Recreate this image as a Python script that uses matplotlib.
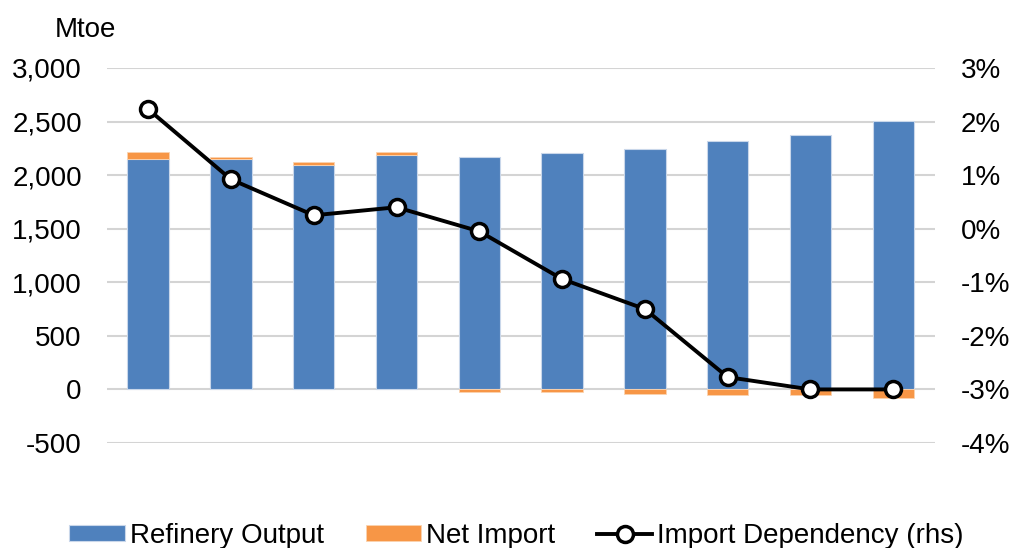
import matplotlib
matplotlib.use("Agg")
import matplotlib.pyplot as plt
from matplotlib.ticker import FuncFormatter
import numpy as np

plt.rcParams['font.family'] = ['Liberation Sans', 'DejaVu Sans']

# Supply balance (Mtoe) and import dependency (%)
years = list(range(10))
refinery_output = [2150, 2150, 2093, 2190, 2171, 2208, 2246, 2320, 2377, 2505]
net_import = [63, 22, 25, 22, -20, -20, -45, -55, -55, -80]
import_dependency = [2.23, 0.92, 0.25, 0.40, -0.05, -0.94, -1.50, -2.77, -3.0, -3.0]

left_ticks = [-500, 0, 500, 1000, 1500, 2000, 2500, 3000]
right_ticks = [-4, -3, -2, -1, 0, 1, 2, 3]

blue = '#4F81BD'
orange = '#F79646'
grid_c = '#D4D4D4'

fig = plt.figure(figsize=(10.17, 5.48), dpi=100)
ax = fig.add_axes([0.105, 0.1916, 0.814, 0.6844])

x = np.arange(len(years))
ax.bar(x, refinery_output, width=0.5, color=blue, edgecolor='#C9D7EA',
       linewidth=0.8, label='Refinery Output', zorder=3)
bottoms = [r if n > 0 else 0 for r, n in zip(refinery_output, net_import)]
ax.bar(x, net_import, width=0.5, bottom=bottoms, color=orange,
       edgecolor='#FBD3B0', linewidth=0.6, label='Net Import', zorder=3)

ax.set_ylim(-500, 3000)
ax.set_xlim(-0.5, len(years) - 0.5)
ax.set_yticks(left_ticks)
ax.yaxis.set_major_formatter(FuncFormatter(lambda v, p: f"{int(v):,}"))
ax.set_xticks([])
ax.grid(axis='y', color=grid_c, linewidth=1.5, zorder=0)
ax.set_axisbelow(True)
for s in ax.spines.values():
    s.set_visible(False)
ax.tick_params(axis='y', length=0, pad=18, labelsize=20)

ax2 = ax.twinx()
ax2.plot(x, import_dependency, color='black', linewidth=2.8, marker='o',
         markersize=11.5, markerfacecolor='white', markeredgecolor='black',
         markeredgewidth=2.5, label='Import Dependency (rhs)', zorder=5)
ax2.set_ylim(-4, 3)
ax2.set_yticks(right_ticks)
ax2.yaxis.set_major_formatter(FuncFormatter(lambda v, p: f"{int(v)}%"))
for s in ax2.spines.values():
    s.set_visible(False)
ax2.tick_params(axis='y', length=0, pad=19, labelsize=20)

fig.text(55 / 1017, (548 - 37) / 548, 'Mtoe', fontsize=20, va='baseline', ha='left')

h1, l1 = ax.get_legend_handles_labels()
h2, l2 = ax2.get_legend_handles_labels()
fig.legend(h1 + h2, l1 + l2, loc='center', bbox_to_anchor=(0.508, 0.022),
           ncol=3, frameon=False, fontsize=20, handlelength=2.0,
           handleheight=0.5, handletextpad=0.18, columnspacing=1.5)

fig.savefig('out.png', dpi=100)
